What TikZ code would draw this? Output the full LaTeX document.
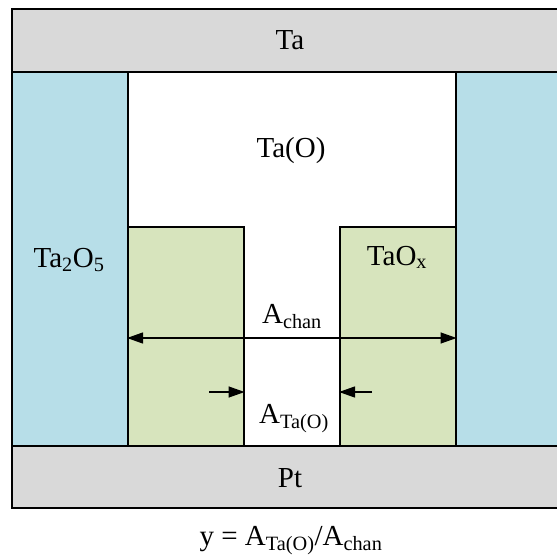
\documentclass[tikz,border=0pt]{standalone}
\usepackage{fontspec}
\setmainfont{Liberation Serif}
\usepackage{tikz}
\usetikzlibrary{arrows.meta, positioning}
\definecolor{metal}{HTML}{D9D9D9}
\definecolor{oxide}{HTML}{B7DEE8}
\definecolor{subox}{HTML}{D7E4BD}

\begin{document}
\begin{tikzpicture}[x=1pt, y=-1pt,
    layer/.style={draw=black, line width=1.6pt, inner sep=0pt, anchor=north west},
    lbl/.style={anchor=base, inner sep=0pt, font=\fontsize{29}{35}\selectfont},
    dimarrow/.style={line width=1.2pt, {Triangle[length=16pt, width=11pt]}-{Triangle[length=16pt, width=11pt]}},
    tiparrow/.style={line width=1.2pt, -{Triangle[length=16pt, width=11pt]}}]
    \useasboundingbox (0,0) rectangle (557,558);
    \clip (0,0) rectangle (557,558);

    % electrodes and oxide
    \node[layer, fill=metal, minimum width=559pt, minimum height=63pt] (ta) at (11,8) {};
    \node[layer, fill=metal, minimum width=559pt, minimum height=62pt] (pt) at (11,445) {};
    \node[layer, fill=oxide, minimum width=116pt, minimum height=374pt] (oxl) at (11,71) {};
    \node[layer, fill=oxide, minimum width=115pt, minimum height=374pt] (oxr) at (455,71) {};
    \node[layer, fill=subox, minimum width=116pt, minimum height=219pt] (gl) at (127,226) {};
    \node[layer, fill=subox, minimum width=116pt, minimum height=219pt] (gr) at (339,226) {};

    % labels
    \node[lbl] (talbl) at (290,49) {Ta};
    \node[lbl] (ptlbl) at (290,487) {Pt};
    \node[lbl] (taolbl) at (291,157) {Ta(O)};
    \node[lbl] (ta2o5) at (69,267) {Ta\textsubscript{2}O\textsubscript{5}};
    \node[lbl] (taox) at (397,265) {TaO\textsubscript{x}};
    \node[lbl] (achan) at (292,323) {A\textsubscript{chan}};
    \node[lbl] (atao) at (294,423) {A\textsubscript{Ta(O)}};
    \node[lbl] (ratio) at (291,545) {y = A\textsubscript{Ta(O)}/A\textsubscript{chan}};

    % dimensions
    \draw[dimarrow] (gl.west |- 0,338) -- (gr.east |- 0,338);
    \coordinate (pl) at (209,392);
    \coordinate (pr) at (372,392);
    \draw[tiparrow] (pl) -- (pl -| gl.east);
    \draw[tiparrow] (pr) -- (pr -| gr.west);
\end{tikzpicture}
\end{document}
